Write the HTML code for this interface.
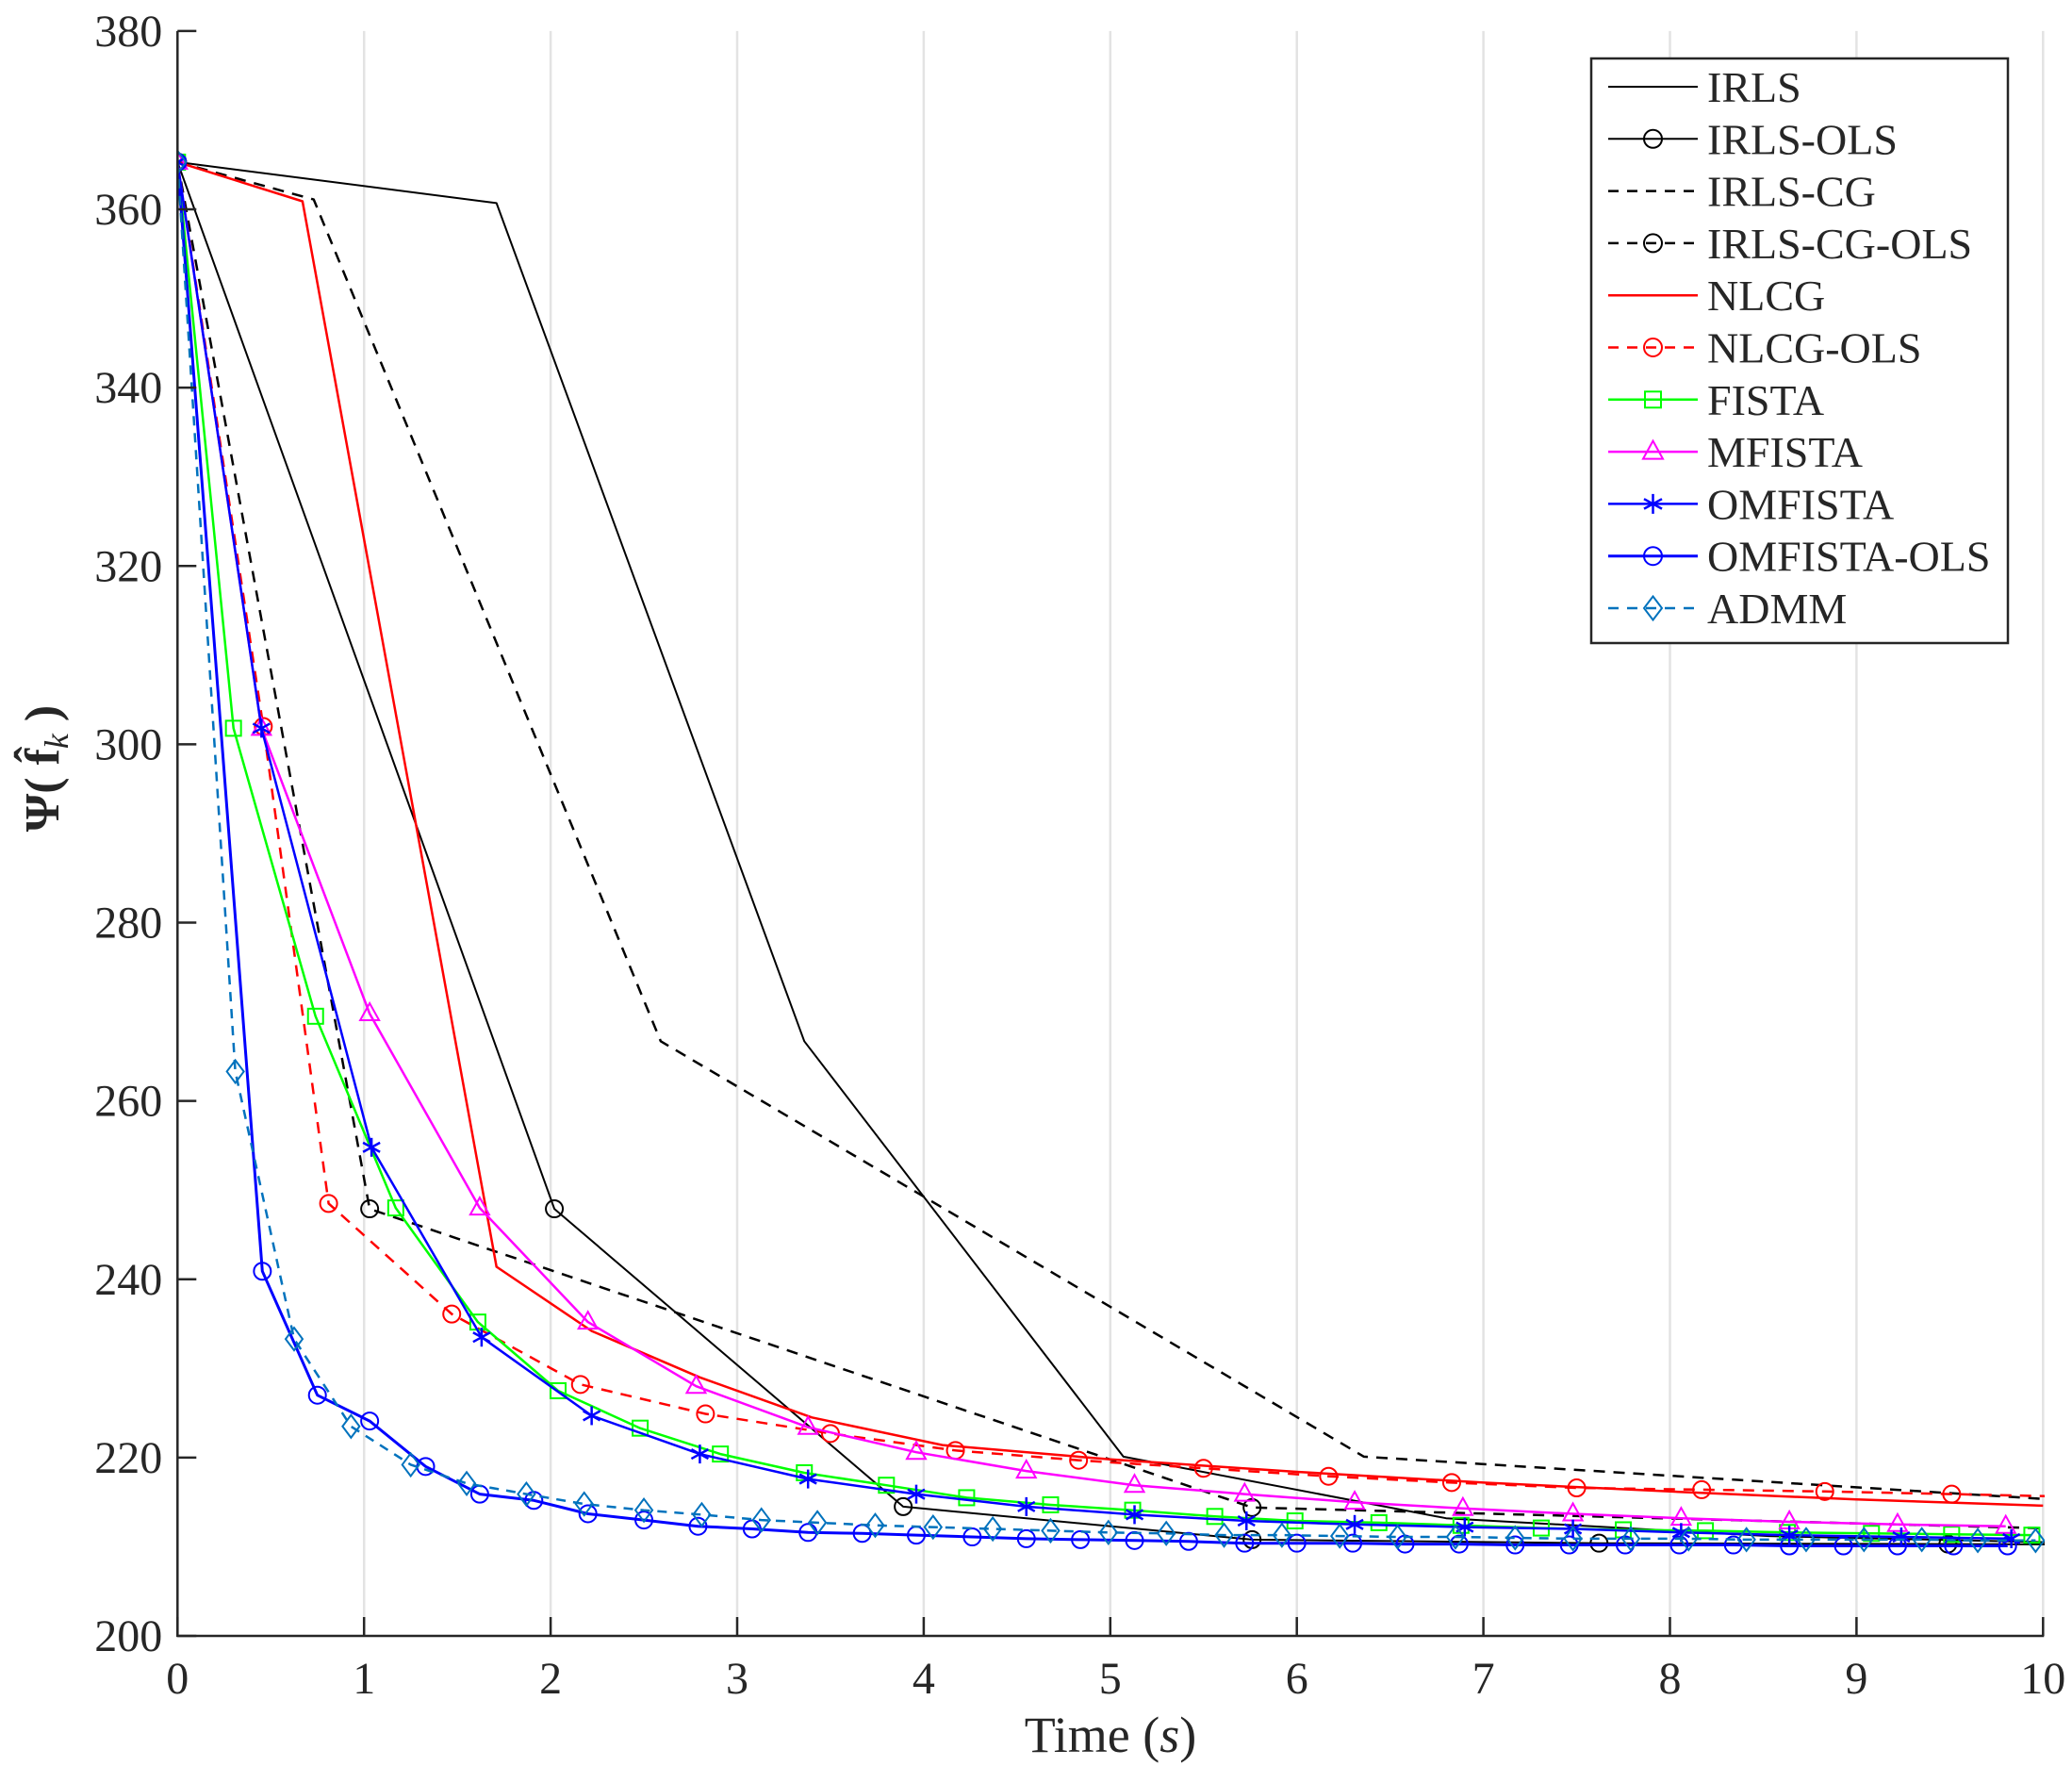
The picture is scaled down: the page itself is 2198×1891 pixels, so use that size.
<!DOCTYPE html>
<html>
<head>
<meta charset="utf-8">
<style>
  html,body{margin:0;padding:0;background:#fff;}
  svg{display:block;}
  text{font-family:"Liberation Serif",serif;fill:#262626;}
</style>
</head>
<body>
<svg id="chart" width="2198" height="1891" viewBox="0 0 2198 1891" xmlns="http://www.w3.org/2000/svg">
  <defs>
    <clipPath id="plotclip"><rect x="188" y="30" width="1981" height="1707"/></clipPath>
  </defs>
  <g id="grid"></g>
  <g id="series" clip-path="url(#plotclip)"></g>
  <g id="axes"></g>
  <g id="legend"></g>
</svg>
<script>
// ---- tick labels ----
const xTicks = [0,1,2,3,4,5,6,7,8,9,10];
const yTicks = [200,220,240,260,280,300,320,340,360,380];

// ---- series data (time s, objective) ----
const irlsT = [0,1.71,3.36,5.07,6.80,8.53,10.26];
const irlsV = [365.3,360.7,266.7,220.1,213.2,211.2,210.4];

const irlsOlsT = [0,2.02,3.89,5.76,7.62,9.49,11.36];
const irlsOlsV = [365.3,247.9,214.5,210.8,210.4,210.3,210.2];

const irlsCgT = [0,0.73,2.59,6.36,10.13];
const irlsCgV = [365.3,361.1,266.7,220.1,215.2];

const irlsCgOlsT = [0,1.03,5.76,10.49];
const irlsCgOlsV = [365.3,247.9,214.4,211.8];

const nlcgT = [0,0.67,1.71,2.22,2.8,3.4,4.1,5.0,6.0,7.0,8.0,9.0,10.0];
const nlcgV = [365.3,360.9,241.4,234.2,229.0,224.5,221.4,219.8,218.4,217.2,216.2,215.3,214.6];

const nlcgOlsT = [0,0.46,0.81,1.47,2.16,2.83,3.50,4.17,4.83,5.50,6.17,6.83,7.50,8.17,8.83,9.51,10.18];
const nlcgOlsV = [365.3,302.0,248.5,236.1,228.2,224.9,222.7,220.8,219.7,218.8,217.9,217.2,216.6,216.4,216.2,215.9,215.6];

const fistaT = [0,0.30,0.74,1.17,1.61,2.04,2.48,2.91,3.36,3.80,4.23,4.68,5.12,5.56,5.99,6.44,6.88,7.31,7.75,8.19,8.63,9.08,9.51,9.94];
const fistaV = [365.3,301.8,269.5,248.0,235.2,227.5,223.3,220.4,218.3,216.9,215.5,214.7,214.1,213.4,212.9,212.7,212.4,212.1,211.9,211.8,211.6,211.5,211.4,211.3];

const mfistaT = [0,0.45,1.03,1.62,2.20,2.78,3.38,3.96,4.55,5.13,5.72,6.31,6.89,7.48,8.06,8.64,9.22,9.80];
const mfistaV = [365.3,301.8,269.8,248.0,235.2,228.0,223.4,220.6,218.5,216.9,215.9,215.0,214.3,213.7,213.2,212.8,212.5,212.3];

const omfistaT = [0,0.45,1.04,1.63,2.22,2.80,3.38,3.96,4.55,5.13,5.73,6.31,6.90,7.48,8.06,8.64,9.24,9.83];
const omfistaV = [365.3,301.8,254.8,233.5,224.7,220.4,217.6,215.9,214.5,213.6,212.9,212.5,212.2,212.0,211.6,211.3,211.1,210.9];

const omfistaOlsT = [0,0.455,0.75,1.03,1.33,1.62,1.91,2.20,2.50,2.79,3.08,3.38,3.67,3.96,4.26,4.55,4.84,5.13,5.42,5.72,6.00,6.30,6.58,6.87,7.17,7.46,7.76,8.05,8.34,8.64,8.93,9.22,9.52,9.81];
const omfistaOlsV = [365.3,240.9,227.0,224.1,219.0,215.9,215.2,213.7,213.0,212.3,212.0,211.6,211.5,211.3,211.1,210.9,210.8,210.7,210.6,210.4,210.4,210.4,210.3,210.3,210.2,210.2,210.2,210.2,210.2,210.1,210.1,210.1,210.1,210.1];

const admmT = [0,0.31,0.625,0.93,1.25,1.55,1.87,2.18,2.50,2.81,3.13,3.43,3.74,4.05,4.37,4.68,4.99,5.30,5.61,5.92,6.23,6.54,6.85,7.17,7.48,7.79,8.10,8.41,8.73,9.04,9.35,9.65,9.96];
const admmV = [365.3,263.3,233.3,223.5,219.2,217.1,215.9,214.8,214.1,213.6,213.0,212.7,212.4,212.2,212.0,211.8,211.6,211.5,211.3,211.3,211.2,211.1,211.1,211.0,210.9,210.9,210.9,210.8,210.8,210.8,210.8,210.7,210.7];

const legendLabels = ["IRLS","IRLS-OLS","IRLS-CG","IRLS-CG-OLS","NLCG","NLCG-OLS","FISTA","MFISTA","OMFISTA","OMFISTA-OLS","ADMM"];

// ---- axis functions ----
const X0 = 188.3, XU = 197.9, Y0 = 1735, YU = 9.456;
function sx(t){ return X0 + t*XU; }
function sy(v){ return Y0 - (v-200)*YU; }

const NS = "http://www.w3.org/2000/svg";
function mk(tag, attrs, parent){
  const e = document.createElementNS(NS, tag);
  for (const k in attrs) e.setAttribute(k, attrs[k]);
  parent.appendChild(e);
  return e;
}

const grid = document.getElementById('grid');
const axes = document.getElementById('axes');
const seriesG = document.getElementById('series');
const legend = document.getElementById('legend');

// grid lines
xTicks.forEach(t => {
  if (t === 0) return;
  const l = mk('line', {x1:sx(t), x2:sx(t), y1:sy(380), y2:sy(200), stroke:'#e3e3e3', 'stroke-width':2.5}, grid);
  
  
});

// axes lines
const yAxis = mk('line', {x1:X0, x2:X0, y1:sy(380), y2:sy(200)+1, stroke:'#262626', 'stroke-width':2.5}, axes);


const xAxis = mk('line', {x1:X0-1, x2:sx(10)+1, y1:Y0, y2:Y0, stroke:'#262626', 'stroke-width':2.5}, axes);



xTicks.forEach(t => {
  const tk = mk('line', {x1:sx(t), x2:sx(t), y1:Y0, y2:Y0-20, stroke:'#262626', 'stroke-width':2.5}, axes);
  
  
  const tx = mk('text', {x:sx(t), y:Y0+61, 'text-anchor':'middle', 'font-size':48}, axes);
  tx.textContent = String(t);
  
  
});
yTicks.forEach(v => {
  const tk = mk('line', {x1:X0, x2:X0+20, y1:sy(v), y2:sy(v), stroke:'#262626', 'stroke-width':2.5}, axes);
  
  
  const tx = mk('text', {x:X0-16, y:sy(v)+16, 'text-anchor':'end', 'font-size':48}, axes);
  tx.textContent = String(v);
  
  
});

// axis titles
const xt = mk('text', {x:1178, y:1858, 'text-anchor':'middle', 'font-size':54}, axes);
xt.innerHTML = 'Time (<tspan font-style="italic">s</tspan>)';


const yt = mk('text', {x:0, y:0, 'text-anchor':'middle', 'font-size':52, 'font-weight':'bold', transform:'translate(62,815) rotate(-90)'}, axes);
yt.innerHTML = 'Ψ( f̂<tspan font-style="italic" font-weight="normal" font-size="36" dy="10">k</tspan><tspan dy="-10"> )</tspan>';



// marker drawing
function marker(type, cx, cy, color, parent, r){
  r = r || 9;
  const common = {fill:'none', stroke:color, 'stroke-width':2};
  let e;
  if (type === 'o') {
    e = mk('ellipse', Object.assign({cx:cx, cy:cy, rx:r, ry:r}, common), parent);
  } else if (type === 's') {
    e = mk('rect', Object.assign({x:cx-r+1, y:cy-r+1, width:2*r-2, height:2*r-2}, common), parent);
  } else if (type === '^') {
    e = mk('polygon', Object.assign({points:`${cx},${cy-r-2} ${cx+r+1},${cy+r-2} ${cx-r-1},${cy+r-2}`}, common), parent);
  } else if (type === 'd') {
    e = mk('polygon', Object.assign({points:`${cx},${cy-r-3} ${cx+r},${cy} ${cx},${cy+r+3} ${cx-r},${cy}`}, common), parent);
  } else if (type === '*') {
    e = mk('g', {stroke:color, 'stroke-width':2.5}, parent);
    mk('line', {x1:cx, x2:cx, y1:cy-r-1, y2:cy+r+1}, e);
    mk('line', {x1:cx-r, x2:cx+r, y1:cy-r*0.55, y2:cy+r*0.55}, e);
    mk('line', {x1:cx-r, x2:cx+r, y1:cy+r*0.55, y2:cy-r*0.55}, e);
  }
  return e;
}

const seriesDefs = [
  {name:'irls', T:irlsT, V:irlsV, color:'#000000', dash:null, m:null, w:2},
  {name:'irls-ols', T:irlsOlsT, V:irlsOlsV, color:'#000000', dash:null, m:'o', w:2},
  {name:'irls-cg', T:irlsCgT, V:irlsCgV, color:'#000000', dash:'12,9', m:null, w:2.5},
  {name:'irls-cg-ols', T:irlsCgOlsT, V:irlsCgOlsV, color:'#000000', dash:'12,9', m:'o', w:2.5},
  {name:'nlcg', T:nlcgT, V:nlcgV, color:'#ff0000', dash:null, m:null, w:2.5},
  {name:'nlcg-ols', T:nlcgOlsT, V:nlcgOlsV, color:'#ff0000', dash:'12,9', m:'o', w:2.5},
  {name:'fista', T:fistaT, V:fistaV, color:'#00ff00', dash:null, m:'s', w:2.5},
  {name:'mfista', T:mfistaT, V:mfistaV, color:'#ff00ff', dash:null, m:'^', w:2.5},
  {name:'omfista', T:omfistaT, V:omfistaV, color:'#0000ff', dash:null, m:'*', w:2.5},
  {name:'omfista-ols', T:omfistaOlsT, V:omfistaOlsV, color:'#0000ff', dash:null, m:'o', w:3},
  {name:'admm', T:admmT, V:admmV, color:'#0072bd', dash:'10,8', m:'d', w:2.5}
];

seriesDefs.forEach(s => {
  const g = mk('g', {}, seriesG);
  
  
  const pts = s.T.map((t,i) => sx(t).toFixed(1) + ',' + sy(s.V[i]).toFixed(1)).join(' ');
  const attrs = {points:pts, fill:'none', stroke:s.color, 'stroke-width':s.w, 'stroke-linejoin':'round'};
  if (s.dash) attrs['stroke-dasharray'] = s.dash;
  const pl = mk('polyline', attrs, g);
  
  
  if (s.m) {
    s.T.forEach((t,i) => {
      const me = marker(s.m, sx(t), sy(s.V[i]), s.color, g);
      
      
    });
  }
});

// legend
const LX = 1688, LY = 62, LW = 442, LH = 620, ROW0 = 92, ROWH = 55.3;
const box = mk('rect', {x:LX, y:LY, width:LW, height:LH, fill:'#ffffff', stroke:'#262626', 'stroke-width':2.5}, legend);


seriesDefs.forEach((s,i) => {
  const y = ROW0 + i*ROWH;
  const g = mk('g', {}, legend);
  
  
  const attrs = {x1:1706, x2:1801, y1:y, y2:y, stroke:s.color, 'stroke-width':s.w};
  if (s.dash) attrs['stroke-dasharray'] = '11,9';
  mk('line', attrs, g);
  if (s.m) marker(s.m, 1753.5, y, s.color, g, 9.5);
  const tx = mk('text', {x:1811, y:y+16, 'font-size':46}, g);
  tx.textContent = legendLabels[i];
  
  
});
</script>
</body>
</html>
